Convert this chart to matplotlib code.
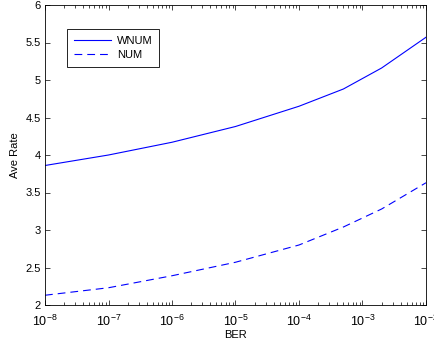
import numpy as np
import matplotlib.pyplot as plt
from matplotlib.ticker import LogLocator, FixedLocator, FuncFormatter

plt.rcParams['font.family'] = ['Liberation Sans', 'DejaVu Sans']
plt.rcParams['mathtext.fontset'] = 'custom'
plt.rcParams['mathtext.rm'] = 'Liberation Sans'
plt.rcParams['mathtext.it'] = 'Liberation Sans'

# taux d'erreur binaire cible
ber = [1e-8, 1e-7, 1e-6, 1e-5, 1e-4, 5e-4, 2e-3, 1e-2]

# débit moyen obtenu par chaque algorithme
rateWNUM = [3.86, 4.00, 4.17, 4.38, 4.65, 4.88, 5.16, 5.57]
rateNUM = [2.13, 2.23, 2.39, 2.57, 2.80, 3.04, 3.28, 3.63]

fs = 8

fig = plt.figure(figsize=(4.35, 3.45), dpi=100)
ax = fig.add_axes([45/435, 40/345, 381/435, 300/345])

ax.plot(ber, rateWNUM, 'b-', lw=0.8, label='WNUM')
ax.plot(ber, rateNUM, 'b--', lw=0.8, dashes=(7, 4.5), label='NUM')

ax.set_xscale('log')
ax.set_xlim(1e-8, 1e-2)
ax.set_ylim(2, 6)
ax.xaxis.set_major_locator(LogLocator(base=10, numticks=10))
ax.xaxis.set_minor_locator(LogLocator(base=10, subs=np.arange(2, 10), numticks=10))
ax.xaxis.set_major_formatter(FuncFormatter(
    lambda v, p: r'$\mathregular{10^{%d}}$' % round(np.log10(v))))
ax.yaxis.set_major_locator(FixedLocator(np.arange(2, 6.01, 0.5)))
ax.set_yticklabels(['2', '2.5', '3', '3.5', '4', '4.5', '5', '5.5', '6'])

ax.tick_params(which='both', direction='in', top=True, right=True)
ax.tick_params(axis='y', labelsize=fs, pad=3)
ax.tick_params(axis='x', labelsize=fs + 1, pad=6)
ax.tick_params(which='major', length=3.5, width=0.5)
ax.tick_params(which='minor', length=2, width=0.5)
for s in ax.spines.values():
    s.set_linewidth(0.6)

ax.set_xlabel('BER', fontsize=fs, labelpad=1)
ax.set_ylabel('Ave Rate', fontsize=fs, labelpad=4)

leg = ax.legend(loc='upper left', bbox_to_anchor=(67/435, 1 - 29/345),
                bbox_transform=fig.transFigure, borderaxespad=0,
                fontsize=fs, fancybox=False, framealpha=1, edgecolor='k',
                handlelength=3.4, handletextpad=0.5, borderpad=0.6,
                labelspacing=0.4)
leg.get_frame().set_linewidth(0.6)

fig.savefig('out.png', dpi=100)
